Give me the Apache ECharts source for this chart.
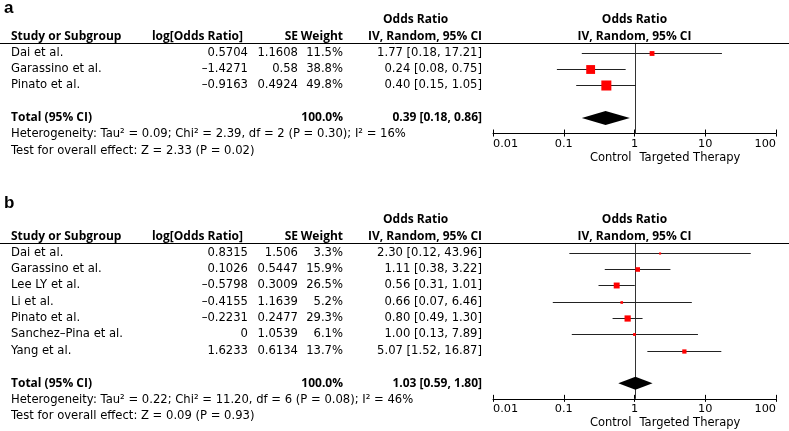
<!DOCTYPE html>
<html><head><meta charset="utf-8">
<script src="https://cdn.jsdelivr.net/npm/echarts@6/dist/echarts.min.js"></script>
<style>html,body{margin:0;padding:0;background:#fff}#c{width:789px;height:431px}</style>
</head><body><div id="c"></div>
<script>
// ---------- Panel a data ----------
const studiesA = ['Dai et al.', 'Garassino et al.', 'Pinato et al.'];
const logOrA = ['0.5704', '\u20131.4271', '\u20130.9163'];
const seA = ['1.1608', '0.58', '0.4924'];
const weightA = [11.5, 38.8, 49.8];
const orA = [1.77, 0.24, 0.40];
const lowA = [0.18, 0.08, 0.15];
const highA = [17.21, 0.75, 1.05];
const totalA = [0.39, 0.18, 0.86];
const totalWeightA = 100.0;
const hetA = 'Heterogeneity: Tau\u00b2 = 0.09; Chi\u00b2 = 2.39, df = 2 (P = 0.30); I\u00b2 = 16%';
const testA = 'Test for overall effect: Z = 2.33 (P = 0.02)';

// ---------- Panel b data ----------
const studiesB = ['Dai et al.', 'Garassino et al.', 'Lee LY et al.', 'Li et al.', 'Pinato et al.', 'Sanchez\u2013Pina et al.', 'Yang et al.'];
const logOrB = ['0.8315', '0.1026', '\u20130.5798', '\u20130.4155', '\u20130.2231', '0', '1.6233'];
const seB = ['1.506', '0.5447', '0.3009', '1.1639', '0.2477', '1.0539', '0.6134'];
const weightB = [3.3, 15.9, 26.5, 5.2, 29.3, 6.1, 13.7];
const orB = [2.30, 1.11, 0.56, 0.66, 0.80, 1.00, 5.07];
const lowB = [0.12, 0.38, 0.31, 0.07, 0.49, 0.13, 1.52];
const highB = [43.96, 3.22, 1.01, 6.46, 1.30, 7.89, 16.87];
const totalB = [1.03, 0.59, 1.80];
const totalWeightB = 100.0;
const hetB = 'Heterogeneity: Tau\u00b2 = 0.22; Chi\u00b2 = 11.20, df = 6 (P = 0.08); I\u00b2 = 46%';
const testB = 'Test for overall effect: Z = 0.09 (P = 0.93)';

// ---------- shared labels ----------
const panelLabels = ['a', 'b'];
const headerTop = ['Odds Ratio', 'Odds Ratio'];
const headerCols = ['Study or Subgroup', 'log[Odds Ratio]', 'SE', 'Weight', 'IV, Random, 95% CI', 'IV, Random, 95% CI'];
const totalLabel = 'Total (95% CI)';
const tickValues = [0.01, 0.1, 1, 10, 100];
const tickLabels = ['0.01', '0.1', '1', '10', '100'];
const favourLabels = ['Control', 'Targeted Therapy'];

// ---------- layout ----------
const ROW_H = 16.33;
const AX_L = 493, AX_R = 776;
const REG = '11.6px "DejaVu Sans"';
const BOLD = 'bold 12px "Open Sans"';
const AXF = '"DejaVu Sans"';
const COLX = {name: 11, logOr: 248, logOrHead: 243, se: 298, weight: 343, orCol: 482, orTop: 383};

function fmt(v) { return v.toFixed(2); }
function ciText(o, l, h) { return fmt(o) + ' [' + fmt(l) + ', ' + fmt(h) + ']'; }
function txt(x, y, t, font, align) {
  return {type: 'text', x: x, y: y,
    style: {text: t, font: font, fill: '#000', textFill: '#000',
      align: align, textAlign: align, verticalAlign: 'middle', textVerticalAlign: 'middle'}};
}

function buildPanel(pi, d) {
  const n = d.studies.length;
  const yMin = -0.6, yMax = n + 1.95;
  const grid = {left: AX_L, width: AX_R - AX_L, top: d.row0 + yMin * ROW_H, height: (yMax - yMin) * ROW_H};
  const xAxes = [
    {type: 'log', logBase: 10, gridIndex: pi, position: 'bottom', min: 0.01, max: 100,
     axisLine: {show: true, onZero: false, lineStyle: {color: '#000', width: 1}},
     axisTick: {show: true, length: 3, lineStyle: {color: '#000', width: 1}},
     splitLine: {show: false}, minorTick: {show: false},
     axisLabel: {show: true, margin: 5, color: '#000', fontFamily: AXF, fontSize: 11.3,
       alignMinLabel: 'left', alignMaxLabel: 'right',
       formatter: v => tickLabels[Math.round(Math.log10(v)) + 2]}},
    {type: 'log', logBase: 10, gridIndex: pi, position: 'bottom', min: 0.01, max: 100,
     axisLine: {show: false, onZero: false},
     axisTick: {show: true, inside: true, length: 4, lineStyle: {color: '#000', width: 1}},
     splitLine: {show: false}, axisLabel: {show: false}}
  ];
  const yAxis = {type: 'value', gridIndex: pi, inverse: true, min: yMin, max: yMax, show: false};

  // table rows built from arrays
  const rows = [];
  rows.push({row: -2, cells: [
    {t: headerTop[0], x: COLX.orTop, a: 'left', b: true},
    {t: headerTop[1], x: 'one', a: 'center', b: true}]});
  rows.push({row: -1, cells: [
    {t: headerCols[0], x: COLX.name, a: 'left', b: true},
    {t: headerCols[1], x: COLX.logOrHead, a: 'right', b: true},
    {t: headerCols[2], x: COLX.se, a: 'right', b: true},
    {t: headerCols[3], x: COLX.weight, a: 'right', b: true},
    {t: headerCols[4], x: COLX.orCol, a: 'right', b: true},
    {t: headerCols[5], x: 'one', a: 'center', b: true}]});
  d.studies.forEach((s, i) => rows.push({row: i, cells: [
    {t: s, x: COLX.name, a: 'left'},
    {t: d.logOr[i], x: COLX.logOr, a: 'right'},
    {t: d.se[i], x: COLX.se, a: 'right'},
    {t: d.weight[i].toFixed(1) + '%', x: COLX.weight, a: 'right'},
    {t: ciText(d.or[i], d.low[i], d.high[i]), x: COLX.orCol, a: 'right'}]}));
  rows.push({row: n + 1, cells: [
    {t: totalLabel, x: COLX.name, a: 'left', b: true},
    {t: d.totalWeight.toFixed(1) + '%', x: COLX.weight, a: 'right', b: true},
    {t: ciText(d.total[0], d.total[1], d.total[2]), x: COLX.orCol, a: 'right', b: true}]});
  rows.push({row: n + 2, cells: [{t: d.het, x: COLX.name, a: 'left'}]});
  rows.push({row: n + 3, cells: [{t: d.test, x: COLX.name, a: 'left'}]});

  const xi = pi * 2;
  const series = [];
  // table text
  series.push({
    type: 'custom', xAxisIndex: xi, yAxisIndex: pi, silent: true, clip: false, z: 5,
    data: rows.map(r => [1, r.row]),
    renderItem(params, api) {
      const r = rows[params.dataIndex];
      const p = api.coord([1, api.value(1)]);
      const children = r.cells.map(c => txt(c.x === 'one' ? p[0] : c.x, p[1], c.t, c.b ? BOLD : REG, c.a));
      if (r.row === -1) {
        const yl = Math.round(api.coord([1, -0.6])[1]) + 0.5;
        children.push({type: 'line', shape: {x1: 0, y1: yl, x2: api.getWidth(), y2: yl},
          style: {stroke: '#000', lineWidth: 1}});
      }
      return {type: 'group', children};
    }
  });
  // line of no effect (OR = 1)
  series.push({
    type: 'custom', xAxisIndex: xi, yAxisIndex: pi, silent: true, clip: false, z: 2,
    data: [[1, yMin, yMax]],
    renderItem(params, api) {
      const a = api.coord([api.value(0), api.value(1)]);
      const b = api.coord([api.value(0), api.value(2)]);
      const x = Math.round(a[0]) + 0.5;
      return {type: 'line', shape: {x1: x, y1: a[1], x2: x, y2: b[1]}, style: {stroke: '#333', lineWidth: 1}};
    }
  });
  // studies: CI + square
  series.push({
    type: 'custom', xAxisIndex: xi, yAxisIndex: pi, silent: true, clip: false, z: 3,
    data: d.or.map((v, i) => [v, i, d.low[i], d.high[i], d.weight[i]]),
    renderItem(params, api) {
      const row = api.value(1);
      const c = api.coord([api.value(0), row]);
      const p0 = api.coord([api.value(2), row]);
      const p1 = api.coord([api.value(3), row]);
      const y = Math.round(c[1]) + 0.5;
      const s = d.sqScale * Math.sqrt(api.value(4));
      return {type: 'group', children: [
        {type: 'line', shape: {x1: p0[0], y1: y, x2: p1[0], y2: y}, style: {stroke: '#222', lineWidth: 1}},
        {type: 'rect', z2: 2, shape: {x: c[0] - s / 2, y: y - s / 2, width: s, height: s}, style: {fill: '#ff0000'}}
      ]};
    }
  });
  // pooled diamond
  series.push({
    type: 'custom', xAxisIndex: xi, yAxisIndex: pi, silent: true, clip: false, z: 4,
    data: [[d.total[0], n + 1, d.total[1], d.total[2]]],
    renderItem(params, api) {
      const row = api.value(1);
      const c = api.coord([api.value(0), row]);
      const l = api.coord([api.value(2), row]);
      const h = api.coord([api.value(3), row]);
      const hh = d.diamondH;
      return {type: 'polygon', shape: {points: [[l[0], c[1]], [c[0], c[1] - hh], [h[0], c[1]], [c[0], c[1] + hh]]},
        style: {fill: '#000'}};
    }
  });
  // favour labels under the axis
  series.push({
    type: 'custom', xAxisIndex: xi, yAxisIndex: pi, silent: true, clip: false, z: 5,
    data: [[1, yMax]],
    renderItem(params, api) {
      const p = api.coord([api.value(0), api.value(1)]);
      const y = p[1] + 24;
      const f = '11.5px ' + AXF;
      return {type: 'group', children: [txt(p[0] - 3, y, favourLabels[0], f, 'right'), txt(p[0] + 5, y, favourLabels[1], f, 'left')]};
    }
  });
  return {grid, xAxes, yAxis, series};
}

const pa = buildPanel(0, {studies: studiesA, logOr: logOrA, se: seA, weight: weightA, or: orA, low: lowA, high: highA,
  total: totalA, totalWeight: totalWeightA, het: hetA, test: testA, row0: 52.7, sqScale: 1.42, diamondH: 7});
const pb = buildPanel(1, {studies: studiesB, logOr: logOrB, se: seB, weight: weightB, or: orB, low: lowB, high: highB,
  total: totalB, totalWeight: totalWeightB, het: hetB, test: testB, row0: 252.7, sqScale: 1.15, diamondH: 6.5});

const chart = echarts.init(document.getElementById('c'), null, {renderer: 'canvas'});
chart.setOption({
  animation: false,
  backgroundColor: '#fff',
  grid: [pa.grid, pb.grid],
  xAxis: pa.xAxes.concat(pb.xAxes),
  yAxis: [pa.yAxis, pb.yAxis],
  series: pa.series.concat(pb.series),
  graphic: [
    {type: 'text', left: 4, top: 0, style: {text: panelLabels[0], font: 'bold 17px "Liberation Sans"', fill: '#000'}},
    {type: 'text', left: 4, top: 195, style: {text: panelLabels[1], font: 'bold 17px "Liberation Sans"', fill: '#000'}}
  ]
});
</script></body></html>
